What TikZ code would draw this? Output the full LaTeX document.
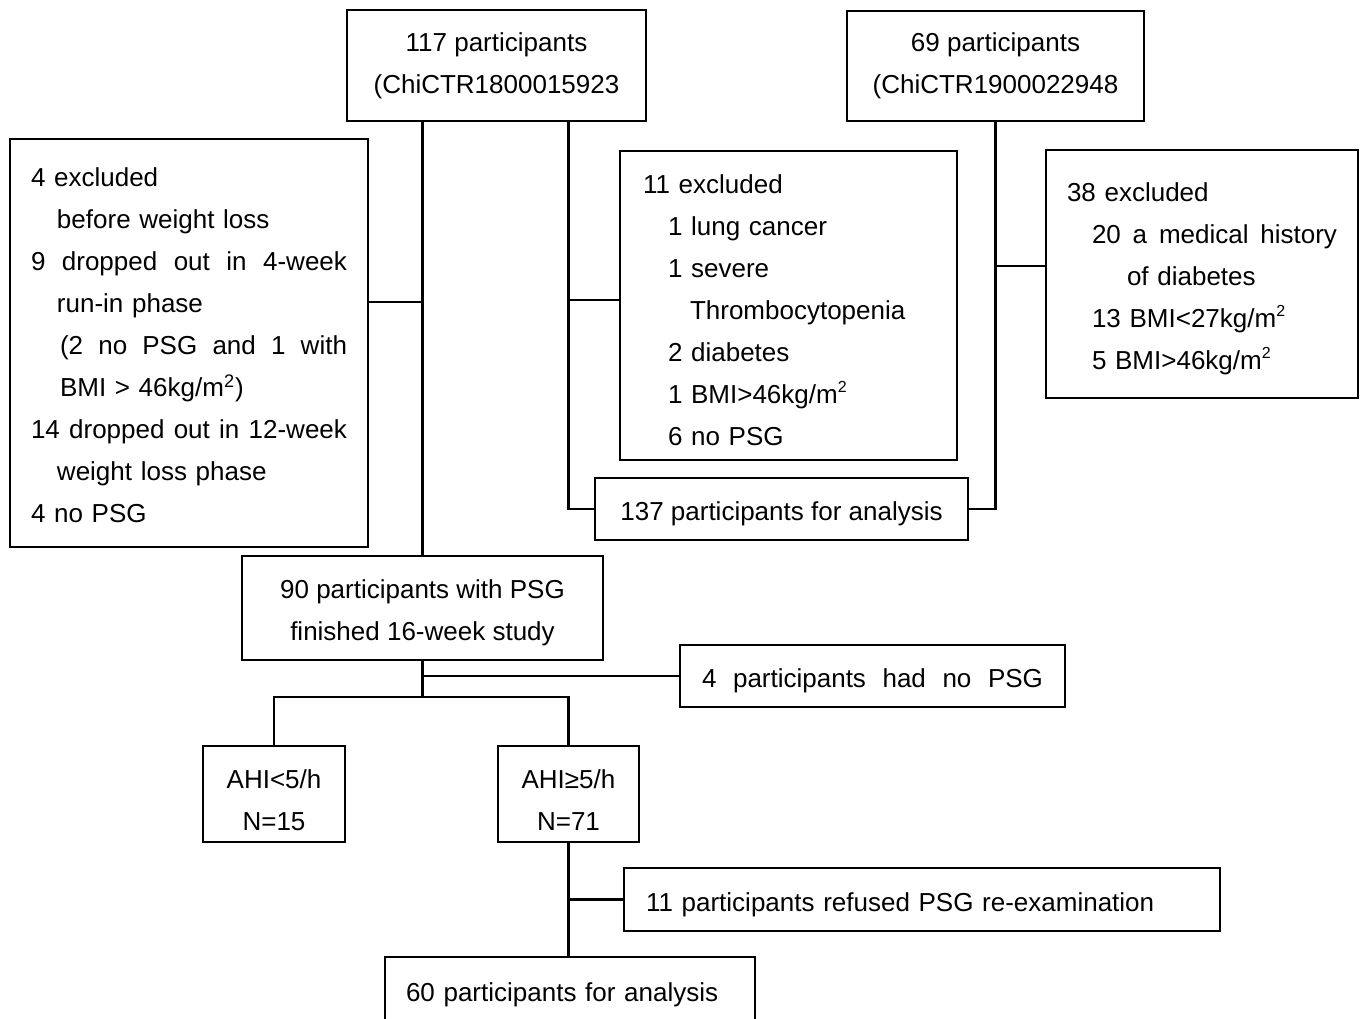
\documentclass[tikz,border=0pt]{standalone}
\usepackage{fontspec}
\setmainfont{Liberation Sans}
\newcommand{\hisup}[1]{\raisebox{5.6pt}{\fontsize{8}{8}\selectfont #1}}
\newcommand{\strutdown}{\rule{0pt}{14.5pt}}
\tikzset{
  box/.style={draw, line width=1.25pt, inner sep=0pt, font=\fontsize{13}{21}\selectfont},
  lower/.style={execute at begin node={\strutdown}},
  conn/.style={line width=1.1pt},
}
\begin{document}
\begin{tikzpicture}[x=0.5pt, y=-0.5pt]
\useasboundingbox (0,0) rectangle (1368,1018);
\clip (0,0) rectangle (1368,1018);
\fill[white] (0,0) rectangle (1368,1018);

% top boxes
\node[box, minimum width=149.5pt, minimum height=55.5pt, align=center] (n117) at (496.5,65.5)
  {117 participants\\(ChiCTR1800015923};
\node[box, minimum width=148.5pt, minimum height=55pt, align=center] (n69) at (995.5,66)
  {69 participants\\(ChiCTR1900022948};

% exclusion boxes
\node[box, minimum width=179pt, minimum height=204pt, text width=158pt, align=left] (exL) at (189,343)
  {\rule{0pt}{11.5pt}4 excluded\\
   \hspace*{13pt}before weight loss\\
   \makebox[158pt][l]{9\hfill dropped\hfill out\hfill in\hfill 4-week}\\
   \hspace*{13pt}run-in phase\\
   \hspace*{14.5pt}\makebox[143.5pt][l]{(2\hfill no\hfill PSG\hfill and\hfill 1\hfill with}\\
   \hspace*{14.5pt}BMI > 46kg/m\textsuperscript{2})\\
   \makebox[158pt][l]{14\hfill dropped\hfill out\hfill in\hfill 12-week}\\
   \hspace*{13pt}weight loss phase\\
   4 no PSG};
\node[box, lower, minimum width=168.5pt, minimum height=154.5pt, text width=145.5pt, align=left] (ex11) at (788.5,305.5)
  {11 excluded\\
   \hspace*{12.5pt}1 lung cancer\\
   \hspace*{12.5pt}1 severe\\
   \hspace*{23.5pt}Thrombocytopenia\\
   \hspace*{12.5pt}2 diabetes\\
   \hspace*{12.5pt}1 BMI>46kg/m\hisup{2}\\
   \hspace*{12.5pt}6 no PSG};
\node[box, lower, minimum width=156pt, minimum height=124pt, text width=135pt, align=left] (ex38) at (1202,274)
  {38 excluded\\
   \hspace*{12.5pt}\makebox[122.5pt][l]{20\hfill a\hfill medical\hfill history}\\
   \hspace*{30pt}of diabetes\\
   \hspace*{12.5pt}13 BMI<27kg/m\hisup{2}\\
   \hspace*{12.5pt}5 BMI>46kg/m\hisup{2}};

\node[box, lower, minimum width=186.5pt, minimum height=31pt, align=center] (a137) at (781.5,509)
  {137 participants for analysis};

\node[box, minimum width=180.5pt, minimum height=52pt, align=center] (n90) at (422.5,608)
  {\strutdown 90 participants with PSG\\finished 16-week study};
\node[box, lower, minimum width=192.5pt, minimum height=31pt, align=center] (nopsg) at (872.5,676)
  {\makebox[170.5pt][l]{4\hfill participants\hfill had\hfill no\hfill PSG}};

\node[box, minimum width=71pt, minimum height=48pt, align=center] (ahiL) at (274,794)
  {\rule{0pt}{15.5pt}AHI<5/h\\N=15};
\node[box, minimum width=70.5pt, minimum height=48pt, align=center] (ahiH) at (568.5,794)
  {\rule{0pt}{15.5pt}AHI≥5/h\\N=71};

\node[box, lower, minimum width=298pt, minimum height=31.5pt, text width=276pt, align=left] (refused) at (922,899.5)
  {11 participants refused PSG re-examination};
\node[box, lower, minimum width=185pt, minimum height=33pt, text width=164pt, align=left] (a60) at (570,990)
  {60 participants for analysis};

% junction coordinates
\coordinate (jL) at (422.5,302);
\coordinate (j11) at (568.5,300);
\coordinate (j38) at (995.5,266);
\coordinate (jsplit) at (422.5,697);

% connectors
\draw[conn] (n117.south -| n90.north) -- (n90.north);
\draw[conn] (exL.east |- jL) -- (jL);
\draw[conn] (n117.south -| ahiH.north) |- (a137.west);
\draw[conn] (j11) -- (ex11.west |- j11);
\draw[conn] (n69.south) |- (a137.east);
\draw[conn] (j38) -- (ex38.west |- j38);
\draw[conn] (n90.south) -- (jsplit);
\draw[conn] (n90.south |- nopsg.west) -- (nopsg.west);
\draw[conn] (ahiL.north) |- (jsplit) -| (ahiH.north);
\draw[conn] (ahiH.south) -- (ahiH.south |- a60.north);
\draw[conn] (ahiH.south |- refused.west) -- (refused.west);
\end{tikzpicture}
\end{document}
